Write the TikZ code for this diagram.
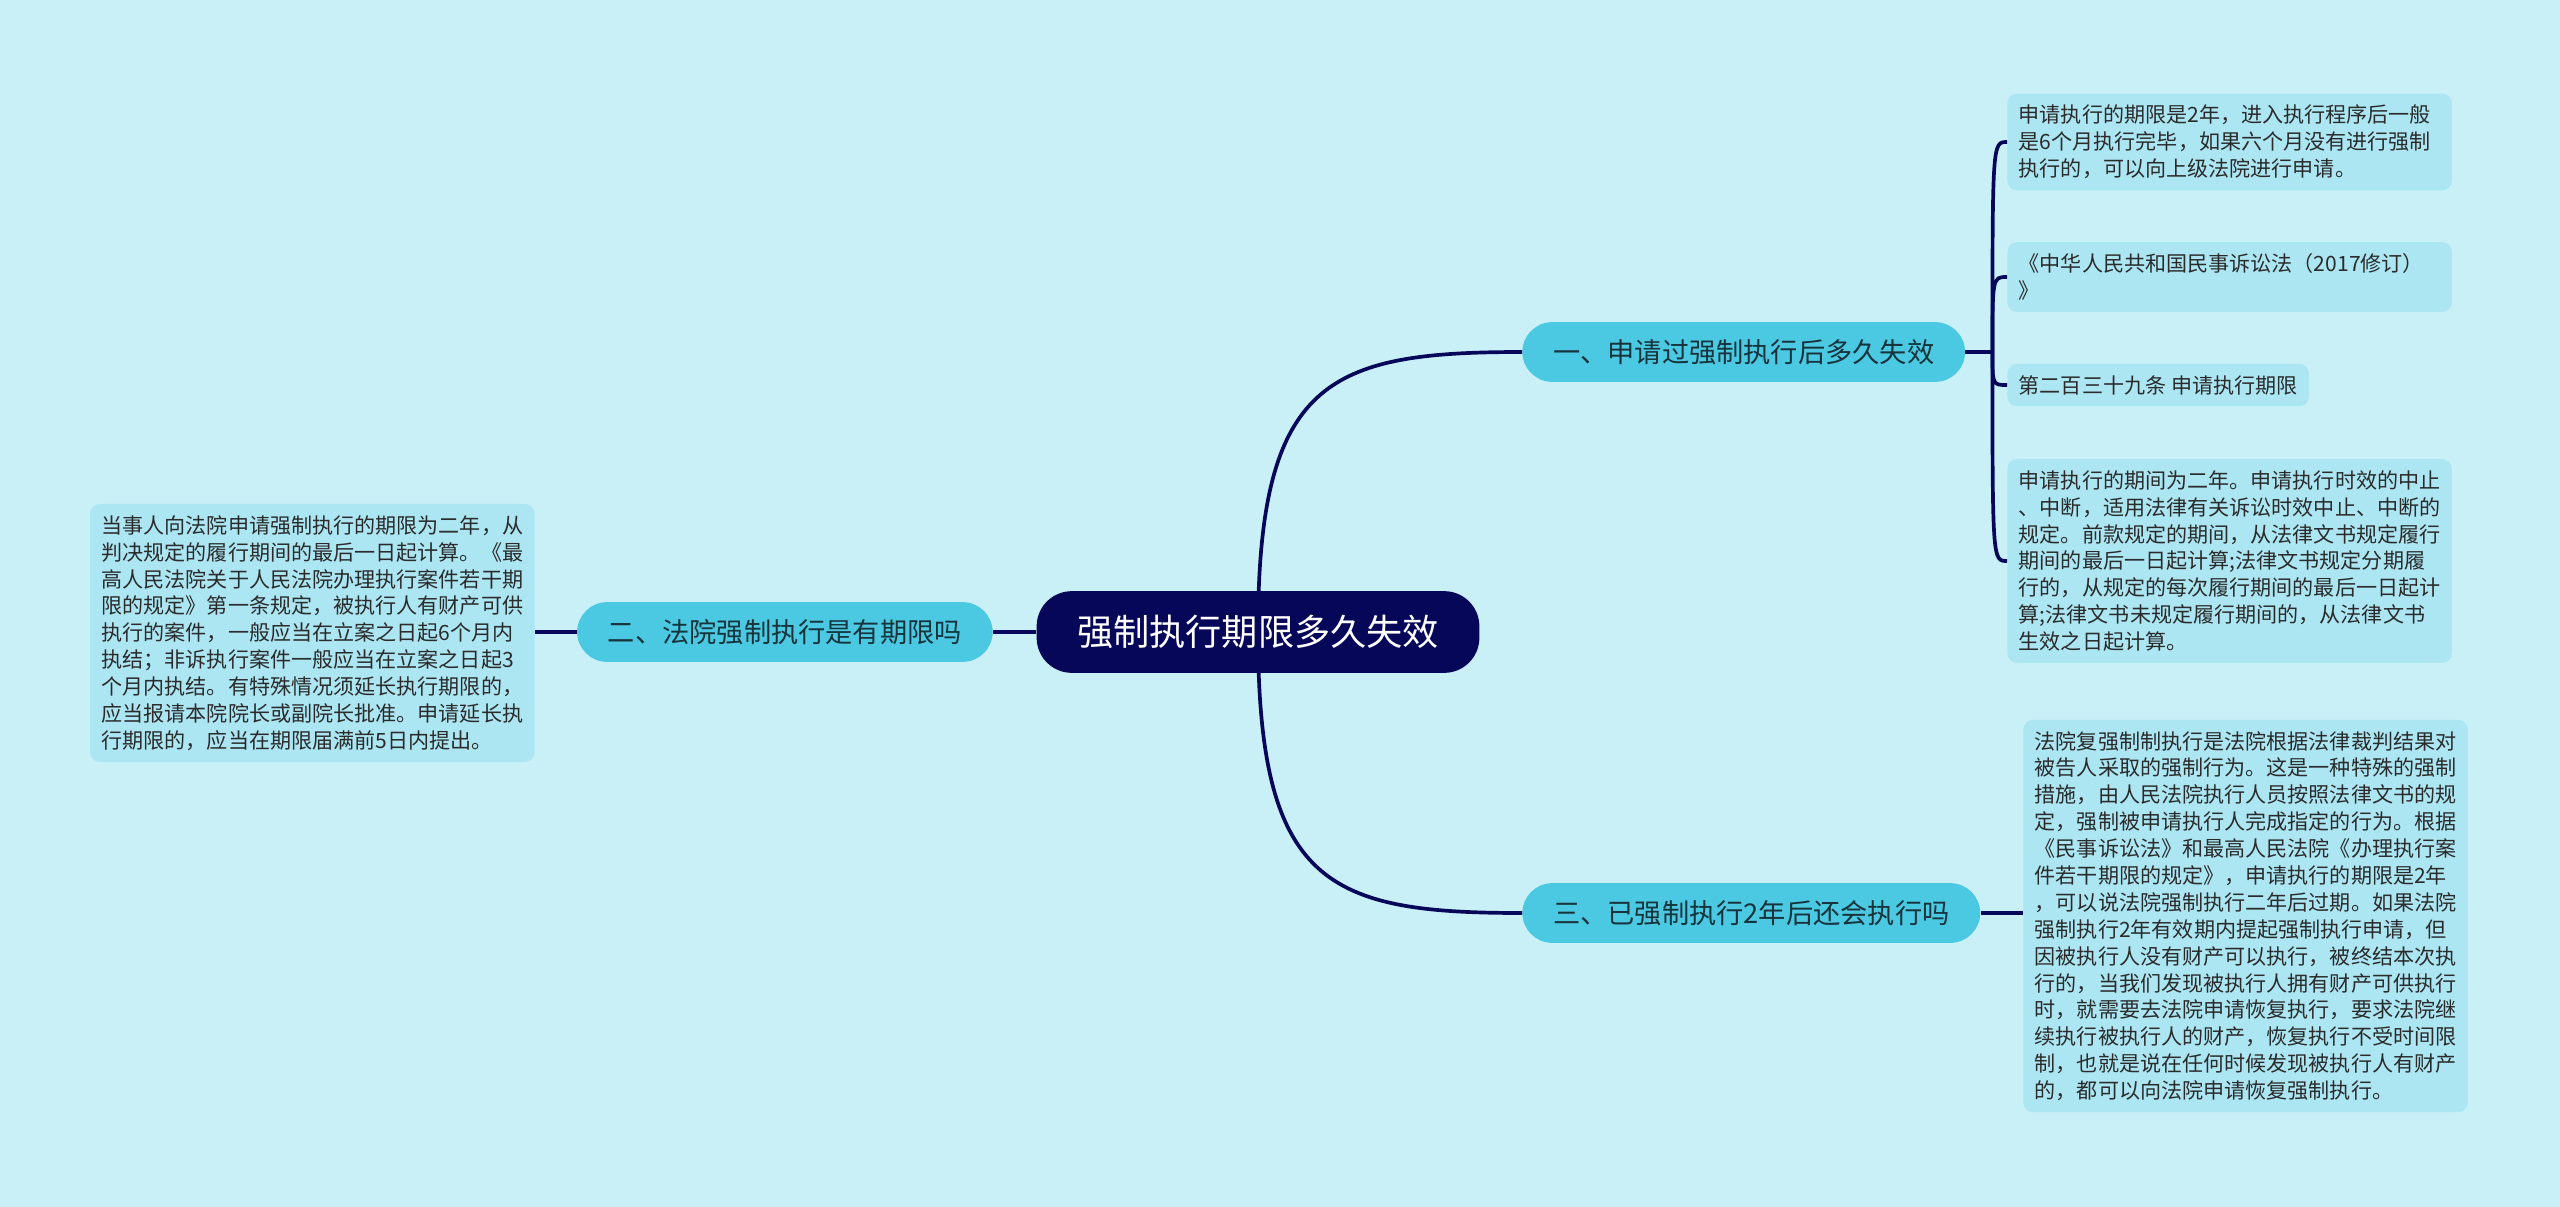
\documentclass[tikz,border=0pt]{standalone}
\usepackage{fontspec}
\setmainfont{Noto Sans CJK SC}
\usetikzlibrary{calc}
\definecolor{bgcol}{HTML}{C9F0F7}
\definecolor{leafcol}{HTML}{ACE6F3}
\definecolor{branchcol}{HTML}{4CC9E2}
\definecolor{rootcol}{HTML}{07075A}
\definecolor{inkcol}{HTML}{2B2B2B}
\definecolor{branchink}{HTML}{17333B}
\tikzset{
  root/.style={fill=rootcol, text=white, rounded corners=20pt, minimum height=46.5pt, inner xsep=23pt, font=\fontsize{20.6pt}{24pt}\selectfont},
  branch/.style={fill=branchcol, text=branchink, rounded corners=17pt, minimum height=34pt, inner xsep=17.5pt, font=\fontsize{15.5pt}{18pt}\selectfont},
  leaf/.style={fill=leafcol, text=inkcol, rounded corners=5.5pt, inner xsep=6.5pt, inner ysep=6.5pt, align=left, font=\fontsize{12pt}{15.3pt}\selectfont},
  link/.style={draw=rootcol, line width=2.1pt},
}
\newcommand{\leaflink}[2]{\draw[link] (#1) .. controls (#1 |- #2.west) .. (#2.west);}

\begin{document}
\begin{tikzpicture}[x=0.02cm, y=-0.02cm]
        \fill[bgcol] (0,0) rectangle (2560,1207);
        \useasboundingbox (0,0) rectangle (2560,1207);
        % centre
        \node[root] (root) at (1258, 632) {强制执行期限多久失效};
        % branches
        \node[branch, anchor=west] (b1) at (1522, 352) {一、申请过强制执行后多久失效};
        \node[branch, anchor=east] (b2) at (993, 632) {二、法院强制执行是有期限吗};
        \node[branch, anchor=west] (b3) at (1522, 913) {三、已强制执行2年后还会执行吗};
        % leaves of branch one
        \node[leaf, text width=240pt, anchor=west] (l1a) at (2007, 142) {申请执行的期限是2年，进入执行程序后一般\\是6个月执行完毕，如果六个月没有进行强制\\执行的，可以向上级法院进行申请。};
        \node[leaf, text width=240pt, anchor=west] (l1b) at (2007, 277) {《中华人民共和国民事诉讼法（2017修订）\\》};
        \node[leaf, anchor=west] (l1c) at (2007, 385) {第二百三十九条 申请执行期限};
        \node[leaf, text width=240pt, anchor=west] (l1d) at (2007, 561) {申请执行的期间为二年。申请执行时效的中止\\、中断，适用法律有关诉讼时效中止、中断的\\规定。前款规定的期间，从法律文书规定履行\\期间的最后一日起计算;法律文书规定分期履\\行的，从规定的每次履行期间的最后一日起计\\算;法律文书未规定履行期间的，从法律文书\\生效之日起计算。};
        % leaf of branch two
        \node[leaf, text width=240pt, anchor=east] (l2) at (535, 633) {当事人向法院申请强制执行的期限为二年，从\\判决规定的履行期间的最后一日起计算。《最\\高人民法院关于人民法院办理执行案件若干期\\限的规定》第一条规定，被执行人有财产可供\\执行的案件，一般应当在立案之日起6个月内\\执结；非诉执行案件一般应当在立案之日起3\\个月内执结。有特殊情况须延长执行期限的，\\应当报请本院院长或副院长批准。申请延长执\\行期限的，应当在期限届满前5日内提出。};
        % leaf of branch three
        \node[leaf, text width=240pt, anchor=west] (l3a) at (2023, 916) {法院复强制制执行是法院根据法律裁判结果对\\被告人采取的强制行为。这是一种特殊的强制\\措施，由人民法院执行人员按照法律文书的规\\定，强制被申请执行人完成指定的行为。根据\\《民事诉讼法》和最高人民法院《办理执行案\\件若干期限的规定》，申请执行的期限是2年\\，可以说法院强制执行二年后过期。如果法院\\强制执行2年有效期内提起强制执行申请，但\\因被执行人没有财产可以执行，被终结本次执\\行的，当我们发现被执行人拥有财产可供执行\\时，就需要去法院申请恢复执行，要求法院继\\续执行被执行人的财产，恢复执行不受时间限\\制，也就是说在任何时候发现被执行人有财产\\的，都可以向法院申请恢复强制执行。};

        % links from the centre
        \draw[link] (root.center) .. controls ($(root.center |- b1.west)+(0,28)$) and ($(root.center |- b1.west)+(70,0)$) .. (b1.west);
        \draw[link] (root.center) .. controls ($(root.center |- b3.west)+(0,-28)$) and ($(root.center |- b3.west)+(70,0)$) .. (b3.west);
        \draw[link] (root.west) -- (b2.east);
        % links to the leaves
        \draw[link] (b2.west) -- (b2.west -| l2.east);
        \draw[link] (b3.east) -- (b3.east -| l3a.west);
        \coordinate (j1) at ($(b1.east)+(27,0)$);
        \draw[link] (b1.east) -- (j1);
        \leaflink{j1}{l1a}
        \leaflink{j1}{l1b}
        \leaflink{j1}{l1c}
        \leaflink{j1}{l1d}
    \end{tikzpicture}
\end{document}
